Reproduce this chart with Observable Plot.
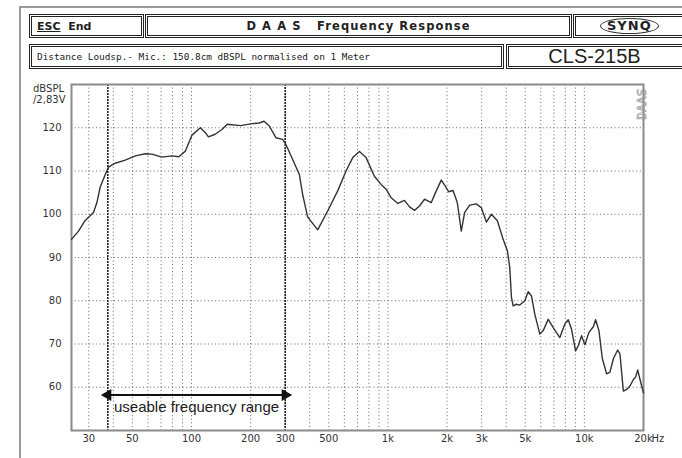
<!DOCTYPE html>
<html><head><meta charset="utf-8">
<script src="https://cdn.jsdelivr.net/npm/d3@7"></script>
<script src="https://cdn.jsdelivr.net/npm/@observablehq/plot@0.6"></script>
<style>
body{margin:0;background:#fff;}
#wrap{position:relative;width:682px;height:458px;overflow:hidden;background:#fff;}
#chart svg{position:absolute;left:0;top:0;}
.frame{position:absolute;left:19px;top:6px;width:700px;height:500px;border-left:2px solid #9a9a9a;border-top:2px solid #9a9a9a;}
.box{position:absolute;box-sizing:border-box;border:3px double #222;display:flex;align-items:center;background:#fff;color:#222;}
.b1{font:bold 11px "DejaVu Sans",sans-serif;}
.ttl{font:bold 11.5px "DejaVu Sans",sans-serif;letter-spacing:1.1px;justify-content:center;}
.mono{font:9.4px "DejaVu Sans Mono",monospace;padding-left:5px;}
.cls{font:20px "Liberation Sans",Arial,sans-serif;justify-content:center;}
.logo{display:inline-block;border:1.5px solid #333;border-radius:50%;padding:0 6px;font:bold 13px "DejaVu Sans",sans-serif;letter-spacing:1px;line-height:14px;}
</style></head>
<body>
<div id="wrap">
  <div id="chart"></div>
  <div class="frame"></div>
  <div class="box b1" style="left:29px;top:14px;width:115px;height:24px;padding-left:5px;"><span style="text-decoration:underline;">ESC</span>&nbsp;&nbsp;End</div>
  <div class="box ttl" style="left:145px;top:14px;width:427px;height:24px;">D&nbsp;A&nbsp;A&nbsp;S&nbsp;&nbsp;&nbsp;Frequency Response</div>
  <div class="box" style="left:573px;top:14px;width:120px;height:24px;padding-left:24px;"><span class="logo">SYNQ</span></div>
  <div class="box mono" style="left:29px;top:44px;width:475px;height:25px;">Distance Loudsp.- Mic.: 150.8cm dBSPL normalised on 1 Meter</div>
  <div class="box cls" style="left:506px;top:44px;width:180px;height:25px;padding-right:3px;">CLS-215B</div>
  <div style="position:absolute;left:33px;top:83px;font:10px 'DejaVu Sans',sans-serif;color:#333;line-height:11px;">dBSPL<br>/2,83V</div>
</div>
<script>
const freq = [24.5, 26.6, 28.7, 31.7, 33.0, 34.3, 36.4, 37.8, 40.9, 46.0, 51.8, 58.2, 62.9, 70.7, 79.5, 86.1, 93.1, 100.6, 111, 118, 122, 132, 143, 152,
  178, 200, 221, 234, 249, 269, 291, 302, 327, 354, 368, 390, 439, 494, 555, 612, 662, 716, 774, 853, 923, 979,
  1039, 1124, 1214, 1288, 1366, 1448, 1536, 1662, 1762, 1869, 1959, 2036, 2144, 2255, 2363, 2457, 2606, 2819, 2990,
  3171, 3363, 3608, 3859, 4058, 4170, 4254, 4339, 4510, 4689, 4973, 5175, 5380, 5593, 5932, 6173, 6547, 6943,
  7501, 7955, 8277, 8605, 9019, 9310, 9679, 10063, 10548, 11108, 11411, 11862, 12346, 12985, 13498, 14048,
  14774, 15178, 15795, 16420, 17068, 17763, 18252, 18685, 19198, 20000];
const spl = [94.2, 96.1, 98.5, 100.4, 102.7, 106.3, 109.2, 110.9, 111.8, 112.5, 113.5, 114.0, 113.9, 113.2, 113.5, 113.3, 114.6, 118.3, 120.0, 118.8, 117.9, 118.5, 119.6, 120.8,
  120.5, 120.9, 121.1, 121.5, 120.4, 117.7, 117.3, 116.2, 112.7, 109.2, 104.6, 99.4, 96.4, 100.8, 105.4, 110.0, 113.1, 114.5, 113.1, 108.8, 106.9, 105.8,
  103.8, 102.5, 103.2, 101.7, 100.9, 101.9, 103.5, 102.7, 105.4, 107.9, 106.5, 105.2, 105.5, 102.7, 96.1, 100.4, 102.1, 102.4, 101.5,
  98.2, 100.0, 98.5, 94.2, 91.5, 87.7, 80.8, 78.8, 79.2, 79.0, 80.0, 82.1, 81.1, 76.9, 72.3, 73.1, 75.7, 73.8,
  71.5, 74.6, 75.6, 73.4, 68.4, 69.6, 71.9, 69.8, 72.7, 74.0, 75.6, 73.1, 66.6, 63.1, 63.5, 66.6,
  68.6, 67.7, 59.1, 59.5, 60.3, 61.8, 62.4, 64.0, 61.8, 58.7];
const xTicks = [30, 50, 100, 200, 300, 500, 1000, 2000, 3000, 5000, 10000, 20000];
const xTickLabels = ["30", "50", "100", "200", "300", "500", "1k", "2k", "3k", "5k", "10k", "20k"];
const xUnit = "Hz";
const xGrid = [30, 40, 50, 60, 70, 80, 90, 100, 200, 300, 400, 500, 600, 700, 800, 900,
  1000, 2000, 3000, 4000, 5000, 6000, 7000, 8000, 9000, 10000, 20000];
const yTicks = [60, 70, 80, 90, 100, 110, 120];
const usable = [37.5, 300];
const arrowLevel = 58.2;
const rangeLabel = "useable frequency range";
const rangeLabelLevel = 55.4;

const curve = freq.map((f, i) => ({f, db: spl[i]}));
const arrowRow = [{a: usable[0], b: usable[1], y: arrowLevel}];
const heads = [{f: usable[0], y: arrowLevel, rot: -90}, {f: usable[1], y: arrowLevel, rot: 90}];
const xLabelRows = xTicks.map((t, i) => ({t, label: xTickLabels[i]}));

const chart = Plot.plot({
  width: 682, height: 458,
  marginLeft: 71, marginRight: 39, marginTop: 84, marginBottom: 28,
  style: {fontFamily: "DejaVu Sans, sans-serif", fontSize: "10px", color: "#333", background: "transparent"},
  x: {type: "log", domain: [24.5, 20000], axis: null},
  y: {domain: [50, 130]},
  marks: [
    Plot.gridX(xGrid, {stroke: "#666", strokeOpacity: 1, strokeDasharray: "1,2.6"}),
    Plot.gridY(yTicks, {stroke: "#666", strokeOpacity: 1, strokeDasharray: "1,2.6"}),
    Plot.ruleX(usable, {stroke: "#222", strokeWidth: 1.6, strokeDasharray: "2,1"}),
    Plot.frame({stroke: "#8a8a8a", strokeWidth: 2}),
    Plot.text(xLabelRows, {x: "t", text: "label", frameAnchor: "bottom", dy: 11, fill: "#333"}),
    Plot.text([xUnit], {x: () => 20000, frameAnchor: "bottom", textAnchor: "start", dx: 8, dy: 11, fill: "#333"}),
    Plot.axisY(yTicks, {tickSize: 0, tickPadding: 10, label: null}),
    Plot.line(curve, {x: "f", y: "db", stroke: "#333", strokeWidth: 1.4}),
    Plot.link(arrowRow, {x1: "a", x2: "b", y1: "y", y2: "y", stroke: "#111", strokeWidth: 2}),
    Plot.dot(heads, {x: "f", y: "y", symbol: "triangle", r: 4.5, fill: "#111", rotate: "rot"}),
    Plot.text([rangeLabel], {x: () => Math.sqrt(usable[0] * usable[1]), y: () => rangeLabelLevel, fontSize: 15, fontFamily: "Liberation Sans, Arial, sans-serif", fill: "#222"}),
    Plot.text(["DAAS"], {frameAnchor: "top-right", rotate: -90, textAnchor: "end", dx: -7, dy: 4, fontSize: 13, fontFamily: "DejaVu Sans Mono, monospace", fill: "none", stroke: "#999", strokeWidth: 0.7})
  ]
});
document.getElementById("chart").appendChild(chart);
</script>
</body></html>
